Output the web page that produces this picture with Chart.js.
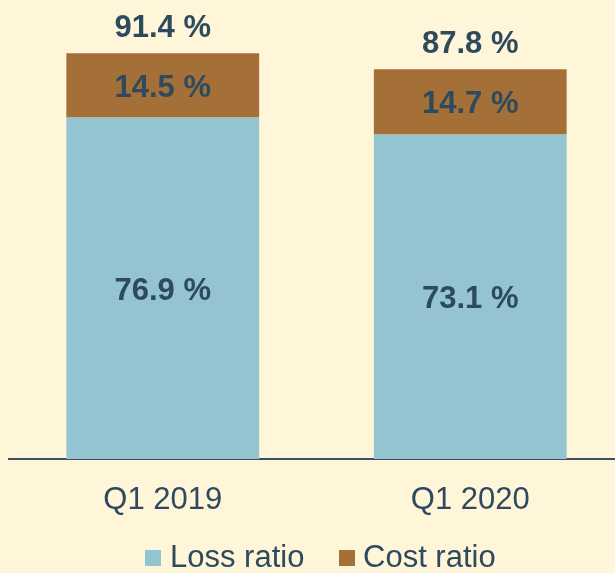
<!DOCTYPE html>
<html>
<head>
<meta charset="utf-8">
<script src="https://cdn.jsdelivr.net/npm/chart.js@4/dist/chart.umd.min.js"></script>
<style>
  html, body { margin: 0; padding: 0; background: #FFF5D8; overflow: hidden; }
  #wrap { position: relative; width: 615px; height: 573px; overflow: hidden; background: #FFF5D8; }
  #cv { position: absolute; left: 0; top: 0; }
  .lg { position: absolute; font-family: "Liberation Sans", Arial, sans-serif; font-size: 31px; line-height: 30px; color: #2E4A5F; white-space: nowrap; }
  .box { position: absolute; width: 16px; height: 16px; }
</style>
</head>
<body>
<div id="wrap">
  <canvas id="cv" width="625" height="573" style="width:625px;height:573px"></canvas>
  <div class="box" style="left:145px;top:550px;background:#93C4D0"></div>
  <div class="lg" id="lg0" style="left:170px;top:542px"></div>
  <div class="box" style="left:339px;top:550px;background:#A47037"></div>
  <div class="lg" id="lg1" style="left:363px;top:542px"></div>
</div>
<script>
const categories = ["Q1 2019", "Q1 2020"];
const seriesNames = ["Loss ratio", "Cost ratio"];
const lossRatio = [76.9, 73.1];
const costRatio = [14.5, 14.7];
const totals = [91.4, 87.8];
const colors = ["#93C4D0", "#A47037"];
const textColor = "#2E4A5F";

document.getElementById("lg0").textContent = seriesNames[0];
document.getElementById("lg1").textContent = seriesNames[1];

const fmt = v => v.toFixed(1) + " %";

const labelPlugin = {
  id: "barLabels",
  afterDatasetsDraw(chart) {
    const ctx = chart.ctx;
    ctx.save();
    ctx.fillStyle = textColor;
    ctx.font = "bold 31px 'Liberation Sans', Arial, sans-serif";
    ctx.textAlign = "center";
    ctx.textBaseline = "middle";
    chart.data.datasets.forEach((ds, di) => {
      const meta = chart.getDatasetMeta(di);
      meta.data.forEach((el, i) => {
        const p = el.getProps(["x", "y", "base"], true);
        ctx.fillText(fmt(ds.data[i]), p.x, (p.y + p.base) / 2 + 3);
      });
    });
    const top = chart.getDatasetMeta(chart.data.datasets.length - 1);
    top.data.forEach((el, i) => {
      const p = el.getProps(["x", "y"], true);
      ctx.fillText(fmt(totals[i]), p.x, p.y - 25);
    });
    ctx.restore();
  }
};

new Chart(document.getElementById("cv"), {
  type: "bar",
  data: {
    labels: categories,
    datasets: [
      { label: seriesNames[0], data: lossRatio, backgroundColor: colors[0] },
      { label: seriesNames[1], data: costRatio, backgroundColor: colors[1] }
    ]
  },
  options: {
    responsive: false,
    animation: false,
    devicePixelRatio: 1,
    layout: { padding: { left: 9, right: 1, top: 15, bottom: 0 } },
    datasets: { bar: { barPercentage: 0.627, categoryPercentage: 1.0 } },
    plugins: { legend: { display: false }, tooltip: { enabled: false } },
    scales: {
      x: {
        stacked: true,
        grid: { display: false, drawTicks: false },
        border: { display: true, color: "#3B4F5E", width: 2 },
        ticks: { color: textColor, padding: 23, font: { family: "'Liberation Sans', Arial, sans-serif", size: 31 } },
        afterFit(scale) { scale.height = 114; }
      },
      y: { stacked: true, display: false, min: 0, max: 100 }
    }
  },
  plugins: [labelPlugin]
});
</script>
</body>
</html>
